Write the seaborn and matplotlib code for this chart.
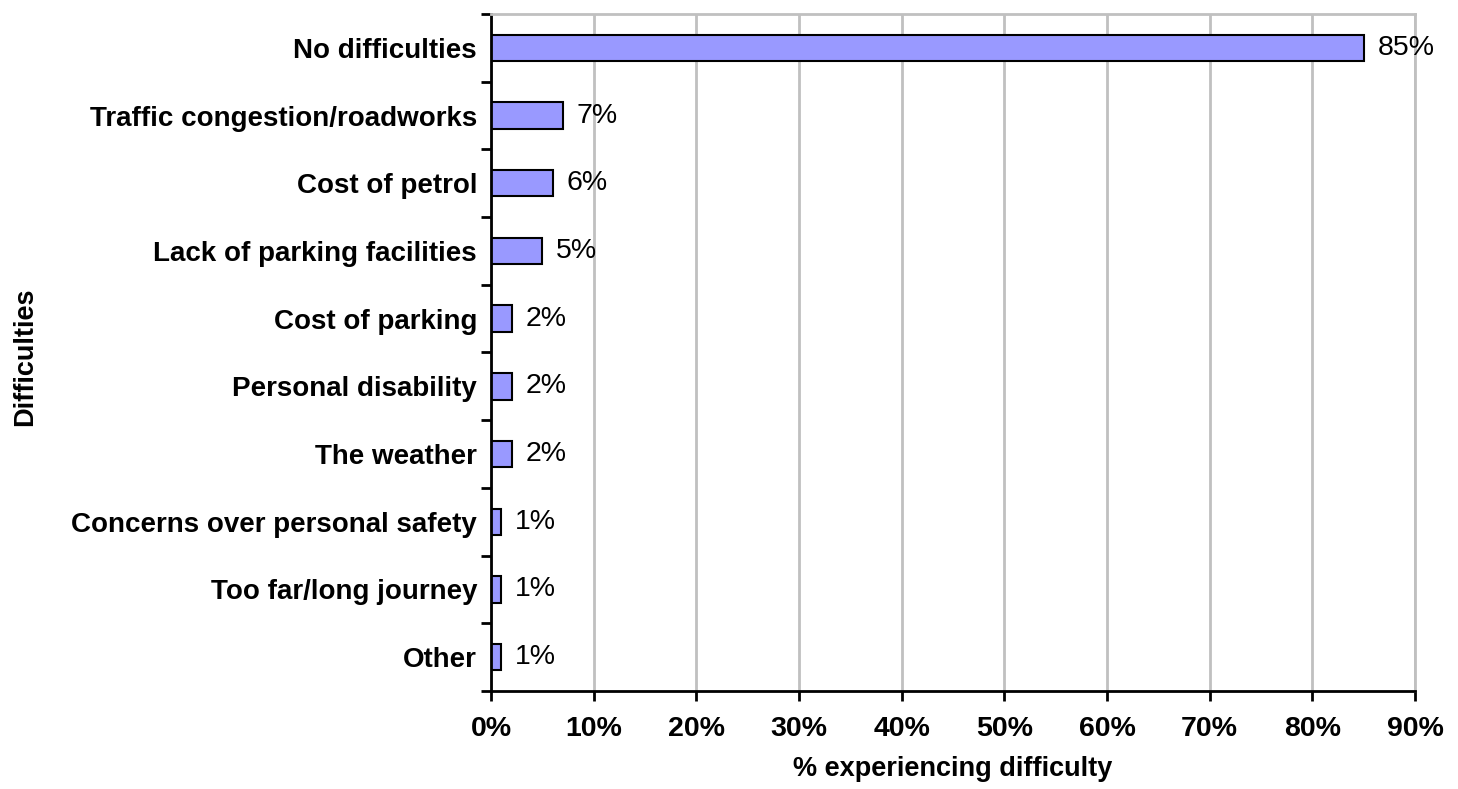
import matplotlib
matplotlib.use("Agg")
import matplotlib.pyplot as plt
import seaborn as sns
import pandas as pd
import numpy as np
from matplotlib.ticker import FixedLocator, FuncFormatter

categories = ["No difficulties", "Traffic congestion/roadworks", "Cost of petrol",
              "Lack of parking facilities", "Cost of parking", "Personal disability",
              "The weather", "Concerns over personal safety", "Too far/long journey", "Other"]
values = [85, 7, 6, 5, 2, 2, 2, 1, 1, 1]
xticks = [0, 10, 20, 30, 40, 50, 60, 70, 80, 90]

sns.set_theme(style="white")
plt.rcParams['font.family'] = ['Liberation Sans', 'DejaVu Sans']
plt.rcParams['text.color'] = 'black'
plt.rcParams['xtick.color'] = 'black'
plt.rcParams['ytick.color'] = 'black'
plt.rcParams['axes.labelcolor'] = 'black'

df = pd.DataFrame({"cat": categories, "val": values})

fig = plt.figure(figsize=(14.58, 7.89), dpi=100)
ax = fig.add_axes([491/1458, 1-691/789, (1415-491)/1458, (691-14)/789])

sns.barplot(data=df, y="cat", x="val", orient="h", color="#9999FF", edgecolor="black",
            linewidth=1.5, width=0.39, saturation=1, ax=ax)

ax.set_xlim(0, 90)
ax.set_ylim(len(categories)-0.5, -0.5)
ax.set_xticks(xticks)
ax.xaxis.set_major_formatter(FuncFormatter(lambda v, p: f"{int(v)}%"))
ax.grid(axis="x", color="#c0c0c0", linewidth=2)
ax.set_axisbelow(True)

for s in ["left", "bottom"]:
    ax.spines[s].set_color("black")
    ax.spines[s].set_linewidth(2)
for s in ["top", "right"]:
    ax.spines[s].set_color("#c0c0c0")
    ax.spines[s].set_linewidth(2)

ax.tick_params(axis="x", bottom=True, length=7, width=2, direction="out",
               labelsize=20.5, pad=11, color="black", labelcolor="black")
for t in ax.get_xticklabels():
    t.set_fontweight("bold")

ax.tick_params(axis="y", which="major", left=False, length=0, labelsize=20, pad=10,
               labelcolor="black")
for t in ax.get_yticklabels():
    t.set_fontweight("bold")
ax.yaxis.set_minor_locator(FixedLocator(np.arange(-0.5, len(categories), 1.0)))
ax.tick_params(axis="y", which="minor", left=True, length=7, width=2, color="black", direction="out")

ax.set_xlabel("% experiencing difficulty", fontsize=19.5, fontweight="bold", labelpad=10,
              color="black")
ax.set_ylabel("")
fig.text(25/1458, 1-357/789, "Difficulties", rotation=90, ha="center", va="center",
         fontsize=19.5, fontweight="bold", color="black")

# value labels: outside end, pulled back in if they would run off the figure
fig.canvas.draw()
renderer = fig.canvas.get_renderer()
fig_w = fig.bbox.width
for i, v in enumerate(values):
    ann = ax.annotate(f"{v}%", xy=(v, i), xytext=(10, 0), textcoords="offset points",
                      va="center", ha="left", fontsize=20.5, color="black")
    bb = ann.get_window_extent(renderer)
    if bb.x1 > fig_w - 1:
        shift_pt = (bb.x1 - (fig_w - 1)) * 72 / fig.dpi
        ann.set_position((max(10 - shift_pt, 4), 0))

fig.savefig("out.png", dpi=100)
